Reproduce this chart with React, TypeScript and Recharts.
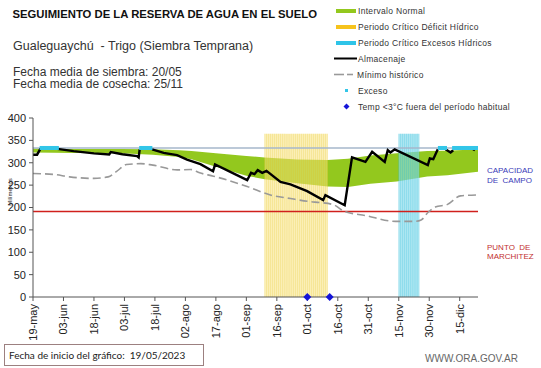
import React from 'react';
import { ComposedChart, XAxis, YAxis, Area, Bar, Cell, Line, Scatter } from 'recharts';

// ---- data (x = days since 19/05/2023) ----
const tickDays = [0, 15, 30, 45, 60, 75, 90, 105, 120, 135, 150, 165, 180, 195, 210];
const tickLabels = ['19-may', '03-jun', '18-jun', '03-jul', '18-jul', '02-ago', '17-ago', '01-sep', '16-sep', '01-oct', '16-oct', '31-oct', '15-nov', '30-nov', '15-dic'];
const yTicks = [0, 50, 100, 150, 200, 250, 300, 350, 400];

const domainDays = [0, 219];
const capacidadCampo = 333;
const puntoMarchitez = 191;

const normalDays = [0, 20, 43, 59, 72, 78, 90, 105, 114, 130, 145, 155, 166, 179, 194, 204, 219];
const normalLow = [323, 322, 321, 318, 313, 308, 291, 271, 263, 254, 247, 246, 253, 258, 269, 272, 280];
const normalHigh = [332, 331, 331, 330, 328, 326, 321, 315, 312, 307, 306, 309, 316, 321, 326, 327, 330];

const minDays = [0, 10, 18, 30, 37, 41, 46, 53, 59, 71, 77.5, 82, 88.8, 105.4, 116.8, 126.7, 136.5, 141.4, 148, 153, 163.6, 178.4, 188, 191, 194.6, 198, 204, 210.4, 219];
const minVals = [276, 274, 268.5, 265, 268.5, 280, 296, 298, 294.6, 284, 285, 277.5, 270, 247, 228, 220, 213, 211, 206, 192, 182, 169, 169, 172, 190, 201, 207, 226, 228];

const almDays = [0, 2, 3.5, 4, 8, 12, 20, 30, 37.5, 38.3, 44, 51.2, 52, 52.5, 55, 58.6, 64.3, 70.9, 75.8, 82.4, 88.6, 89.6, 105.4, 107.3, 109, 110.6, 112.8, 114.9, 121.8, 126.7, 134.9, 142.8, 143.9, 153.4, 157, 163.6, 166.9, 173.1, 174.6, 175.9, 178, 194.3, 195.3, 197, 199.2, 201, 203, 205.5, 206.8, 210, 216.5, 217.5];
const almVals: (number | null)[] = [318, 318, 330, 332, null, 331, 326, 321, 318.5, 323.7, 319, 315, 312, 330, null, 330, 322, 317, 307, 297, 281, 296, 261, 277.5, 274.5, 283.5, 277.5, 282, 257, 251.5, 236.6, 216.5, 227.7, 205, 312, 302, 324.5, 302, 328, 323, 330, 294.6, 309.6, 308, 330, null, 330, 323, 328, null, 331, 328];

const excesoDays = [4, 5, 6, 7, 8, 9, 10, 11, 12, 53, 54, 55, 56, 57, 58, 200, 201, 202, 203, 207, 208, 209, 210, 211, 212, 213, 214, 215, 216, 217, 218, 219];
const excesoVal = 333;

const tempDays = [135, 146];
const tempVal = 0;

const deficitDays = [114, 115, 116, 117, 118, 119, 120, 121, 122, 123, 124, 125, 126, 127, 128, 129, 130, 131, 132, 133, 134, 135, 136, 137, 138, 139, 140, 141, 142, 143, 144, 145];
const excesoCritDays = [180, 181, 182, 183, 184, 185, 186, 187, 188, 189, 190];
const criticalTop = 365;

// ---- derived tables for the library ----
const stripeData = [
  ...deficitDays.map((d) => ({ d, top: criticalTop, kind: 'def' })),
  ...excesoCritDays.map((d) => ({ d, top: criticalTop, kind: 'exc' })),
];
const deficitBand = deficitDays.map((d) => ({ d, v: criticalTop }));
const excesoBand = excesoCritDays.map((d) => ({ d, v: criticalTop }));
const normalData = normalDays.map((d, i) => ({ d, range: [normalLow[i], normalHigh[i]] }));
const minData = minDays.map((d, i) => ({ d, v: minVals[i] }));
const almData = almDays.map((d, i) => ({ d, v: almVals[i] }));
const excesoData = excesoDays.map((d) => ({ d, v: excesoVal }));
const tempData = tempDays.map((d) => ({ d, v: tempVal }));
const ccData = domainDays.map((d) => ({ d, v: capacidadCampo }));
const pmData = domainDays.map((d) => ({ d, v: puntoMarchitez }));

const FONT = '"Liberation Sans", Arial, sans-serif';

const XTick = (props: any) => {
  const { x, y, payload } = props;
  const i = tickDays.indexOf(payload.value);
  return (
    <text x={x} y={y} transform={`rotate(-90, ${x}, ${y})`} textAnchor="end" dominantBaseline="central" fontSize={11} fill="#222" fontFamily={FONT}>
      {i >= 0 ? tickLabels[i] : ''}
    </text>
  );
};

const ExcesoShape = (props: any) => {
  const { cx, cy } = props;
  if (cx == null || cy == null) return null;
  return <rect x={cx - 1.5} y={cy - 2} width={3} height={4} fill="#33c6e8" />;
};

const DiamondShape = (props: any) => {
  const { cx, cy } = props;
  if (cx == null || cy == null) return null;
  return <path d={`M${cx},${cy - 4} L${cx + 4},${cy} L${cx},${cy + 4} L${cx - 4},${cy} Z`} fill="#1414d8" />;
};

const legendText = { fontSize: 8.5, fill: '#333', letterSpacing: 0.3 } as const;

export default function App() {
  return (
    <div style={{ position: 'absolute', left: 0, top: 0, width: 541, height: 368, background: '#fff', fontFamily: FONT }}>
      <ComposedChart width={541} height={368} data={stripeData} margin={{ top: 118, right: 63, bottom: 21, left: 0 }}>
        <XAxis
          dataKey="d"
          type="number"
          domain={domainDays}
          ticks={tickDays}
          interval={0}
          tick={<XTick />}
          tickSize={4}
          tickMargin={3}
          height={50}
          stroke="#555"
          allowDataOverflow
        />
        <YAxis
          type="number"
          domain={[0, 400]}
          ticks={yTicks}
          interval={0}
          width={33}
          tickSize={4}
          tickMargin={3}
          stroke="#555"
          tick={{ fontSize: 11, fill: '#222', fontFamily: FONT }}
        />
        <Area data={normalData} dataKey="range" type="linear" stroke="none" fill="#93c81e" fillOpacity={1} isAnimationActive={false} />
        <Area data={deficitBand} dataKey="v" type="linear" stroke="none" fill="#f7e27a" fillOpacity={0.55} isAnimationActive={false} />
        <Area data={excesoBand} dataKey="v" type="linear" stroke="none" fill="#7fd8ea" fillOpacity={0.65} isAnimationActive={false} />
        <Bar dataKey="top" barSize={1.2} fill="#e4c22a" isAnimationActive={false}>
          {stripeData.map((e, i) => (
            <Cell key={i} fill={e.kind === 'def' ? '#e2bc14' : '#14b4d8'} fillOpacity={1} />
          ))}
        </Bar>
        <Line data={ccData} dataKey="v" type="linear" stroke="#a6b7cb" strokeWidth={1.5} dot={false} isAnimationActive={false} />
        <Line data={pmData} dataKey="v" type="linear" stroke="#d0201c" strokeWidth={1.5} dot={false} isAnimationActive={false} />
        <Line data={minData} dataKey="v" type="monotone" stroke="#999" strokeWidth={1.6} strokeDasharray="8 4" dot={false} isAnimationActive={false} />
        <Line data={almData} dataKey="v" type="linear" stroke="#000" strokeWidth={2.4} dot={false} connectNulls={false} isAnimationActive={false} />
        <Scatter data={excesoData} dataKey="v" shape={<ExcesoShape />} isAnimationActive={false} />
        <Scatter data={tempData} dataKey="v" shape={<DiamondShape />} isAnimationActive={false} />
      </ComposedChart>
      <svg width={541} height={368} style={{ position: 'absolute', left: 0, top: 0, pointerEvents: 'none', whiteSpace: 'pre' }} fontFamily={FONT}>
        <text x={12.5} y={17.5} fontSize={11.3} fontWeight="bold" fill="#111">SEGUIMIENTO DE LA RESERVA DE AGUA EN EL SUELO</text>
        <text x={13} y={50} fontSize={12.5} fill="#333" xmlSpace="preserve">Gualeguaychú  - Trigo (Siembra Temprana)</text>
        <text x={13} y={75.5} fontSize={12} fill="#333">Fecha media de siembra: 20/05</text>
        <text x={13} y={88} fontSize={12} fill="#333">Fecha media de cosecha: 25/11</text>

        {/* legend */}
        <rect x={336} y={9} width={20} height={4} fill="#93c81e" />
        <text x={358} y={14} {...legendText}>Intervalo Normal</text>
        <rect x={336} y={25} width={20} height={4} fill="#f6c31c" />
        <text x={358} y={30} {...legendText}>Periodo Crítico Déficit Hídrico</text>
        <rect x={336} y={41} width={20} height={4} fill="#2ec4e8" />
        <text x={358} y={46} {...legendText}>Periodo Crítico Excesos Hídricos</text>
        <line x1={334} x2={357} y1={58.5} y2={58.5} stroke="#000" strokeWidth={2} />
        <text x={358} y={62} {...legendText}>Almacenaje</text>
        <line x1={334} x2={344} y1={74.5} y2={74.5} stroke="#999" strokeWidth={1.6} />
        <line x1={347} x2={353} y1={74.5} y2={74.5} stroke="#999" strokeWidth={1.6} />
        <text x={357} y={78} {...legendText}>Mínimo histórico</text>
        <rect x={345} y={89} width={3} height={3} fill="#33c6e8" />
        <text x={358} y={94} {...legendText}>Exceso</text>
        <path d="M346.5,103.5 L349.5,106.5 L346.5,109.5 L343.5,106.5 Z" fill="#1414d8" />
        <text x={358} y={110} {...legendText}>Temp &lt;3°C fuera del período habitual</text>

        {/* right labels */}
        <text x={487} y={173} fontSize={8} fill="#3a3ab8" xmlSpace="preserve">CAPACIDAD</text>
        <text x={487} y={182.5} fontSize={8} fill="#3a3ab8" xmlSpace="preserve">DE  CAMPO</text>
        <text x={487} y={250} fontSize={8} fill="#c23030" xmlSpace="preserve">PUNTO  DE</text>
        <text x={487} y={259} fontSize={8} fill="#c23030">MARCHITEZ</text>

        {/* y label */}
        <text x={10} y={192} fontSize={6} fill="#222" textAnchor="middle" transform="rotate(-90, 10, 192)" dominantBaseline="central">Milímetros</text>

        {/* footer */}
        <rect x={4.5} y={344.5} width={199} height={21} fill="none" stroke="#9c8080" strokeWidth={1} />
        <text x={9} y={359} fontSize={10} fill="#222" fontFamily="Lato, sans-serif" xmlSpace="preserve">Fecha de inicio del gráfico:  19/05/2023</text>
        <text x={425} y={362} fontSize={10} fill="#666">WWW.ORA.GOV.AR</text>
      </svg>
    </div>
  );
}
